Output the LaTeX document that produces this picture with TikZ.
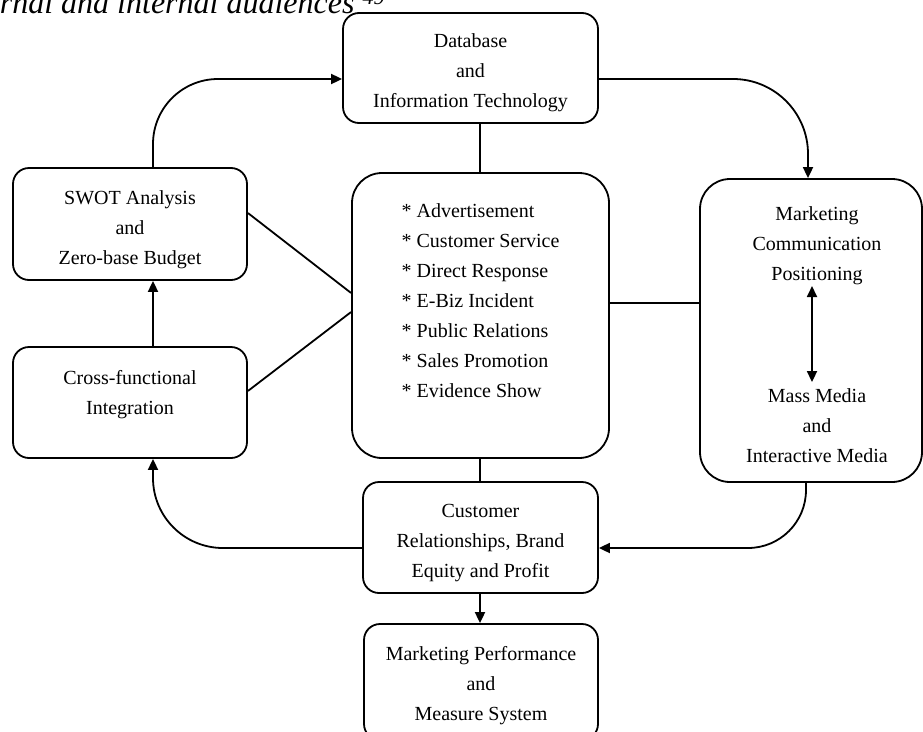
\documentclass[tikz,border=0pt]{standalone}
\usepackage{fontspec}
\setmainfont{Liberation Serif}
\usetikzlibrary{arrows.meta}
\begin{document}
\begin{tikzpicture}[x=1pt,y=-1pt, line width=1.8pt,
  >={Triangle[length=11pt,width=10pt]},
  box/.style={draw, rounded corners=16pt, align=center, inner sep=0pt,
    font=\fontsize{20}{30}\selectfont},
  bigbox/.style={box, rounded corners=30pt},
  txt/.style={align=center, inner sep=0pt, font=\fontsize{20}{30}\selectfont}]
\useasboundingbox (0,0) rectangle (923,731);
\clip (0,0) rectangle (923,731);

\node[anchor=base west, inner sep=0pt, font=\fontsize{32}{38}\selectfont\itshape] (title) at (-1,13.5) {rnal and internal audiences~\textsuperscript{49}};

\node[box, minimum width=255pt, minimum height=110pt] (db) at (470.5,68) {};
\node[txt] (dbt) at (470.5,73) {Database\\and\\Information Technology};
\node[box, minimum width=234pt, minimum height=112pt] (swot) at (130,224) {};
\node[txt] (swott) at (130,230) {SWOT Analysis\\and\\Zero-base Budget};
\node[box, minimum width=234pt, minimum height=111pt] (cross) at (130,402.5) {};
\node[txt] (crosst) at (130,395) {Cross-functional\\Integration};
\node[bigbox, minimum width=257pt, minimum height=285pt, align=left] (center) at (480.5,315.5)
  {* Advertisement\\* Customer Service\\* Direct Response\\* E-Biz Incident\\* Public Relations\\* Sales Promotion\\* Evidence Show\\~};
\node[bigbox, minimum width=222pt, minimum height=303pt] (right) at (811,330.5) {};
\node[txt] (mc) at (817,246) {Marketing\\Communication\\Positioning};
\node[txt] (mm) at (817,426) {Mass Media\\and\\Interactive Media};
\node[box, minimum width=235pt, minimum height=111pt] (cust) at (480.5,537.5) {};
\node[txt] (custt) at (480.5,543) {Customer\\Relationships, Brand\\Equity and Profit};
\node[box, minimum width=234pt, minimum height=116pt] (mp) at (481,682) {};
\node[txt] (mpt) at (481,686) {Marketing Performance\\and\\Measure System};

\coordinate (xL) at (153,0);
\coordinate (xC) at (480,0);
\coordinate (xRt) at (808,0);
\coordinate (xRb) at (806,0);
\coordinate (xA) at (812,0);
\coordinate (yT) at (0,79);
\coordinate (yB) at (0,548);
\coordinate (yM) at (0,303);
\coordinate (yS1) at (0,213);
\coordinate (yS2) at (0,293);
\coordinate (yC1) at (0,391);
\coordinate (yC2) at (0,312);

\draw[->, rounded corners=65pt] (swot.north -| xL) |- (db.west |- yT);
\draw[->, rounded corners=75pt] (db.east |- yT) -| (right.north -| xRt);
\draw[->, rounded corners=58pt] (right.south -| xRb) |- (cust.east |- yB);
\draw[->, rounded corners=70pt] (cust.west |- yB) -| (cross.south -| xL);
\draw[->] (cross.north -| xL) -- (swot.south -| xL);
\draw (db.south -| xC) -- (center.north -| xC);
\draw (center.south -| xC) -- (cust.north -| xC);
\draw[->] (cust.south -| xC) -- (mp.north -| xC);
\draw (center.east |- yM) -- (right.west |- yM);
\draw (swot.east |- yS1) -- (center.west |- yS2);
\draw (cross.east |- yC1) -- (center.west |- yC2);
\draw[<->, shorten >=6pt] (mc.south -| xA) -- (mm.north -| xA);
\end{tikzpicture}
\end{document}
